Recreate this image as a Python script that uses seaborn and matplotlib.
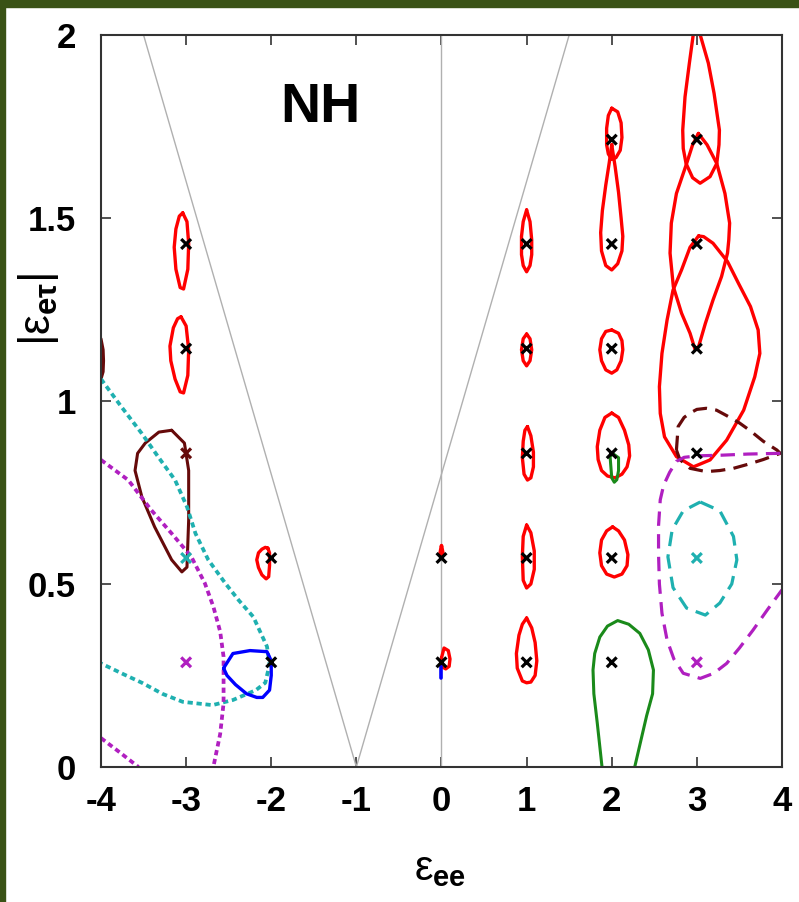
"""
NH contour chart: |eps_e tau| vs eps_ee
"""

import pandas as pd
import matplotlib.pyplot as plt
import seaborn as sns
from matplotlib.patches import Rectangle

# ---- axis ticks ----
x_ticks = [-4, -3, -2, -1, 0, 1, 2, 3, 4]
x_tick_labels = ["-4", "-3", "-2", "-1", "0", "1", "2", "3", "4"]
y_ticks = [0, 0.5, 1, 1.5, 2]
y_tick_labels = ["0", "0.5", "1", "1.5", "2"]

# ---- best-fit points (x markers) ----
mk_x = [-3, -3, -3, -3, -3, -2, -2, 0, 0,
        1, 1, 1, 1, 1, 2, 2, 2, 2, 2, 2,
        3, 3, 3, 3, 3, 3]
mk_y = [1.429, 1.143, 0.857, 0.571, 0.286, 0.571, 0.286, 0.571, 0.286,
        1.429, 1.143, 0.857, 0.571, 0.286,
        1.714, 1.429, 1.143, 0.857, 0.571, 0.286,
        1.714, 1.429, 1.143, 0.857, 0.571, 0.286]
mk_col = ["black", "black", "brown", "cyan", "magenta", "black", "black", "black", "black",
          "black", "black", "black", "black", "black",
          "black", "black", "black", "black", "black", "black",
          "black", "black", "black", "black", "cyan", "magenta"]

# ---- guide lines (grey) ----
v_x = [-3.5, -1.0, 1.5]
v_y = [2.0, 0.0, 2.0]
vert_x = [0.0, 0.0]
vert_y = [0.0, 2.0]

# ---- red solid contours ----
r1_x = [-3.04, -2.99, -2.97, -2.98, -3.03, -3.07, -3.12, -3.14, -3.12, -3.08, -3.04]
r1_y = [1.514, 1.49, 1.43, 1.36, 1.306, 1.31, 1.36, 1.42, 1.47, 1.505, 1.514]
r2_x = [-3.06, -3.0, -2.97, -2.98, -3.03, -3.07, -3.13, -3.18, -3.19, -3.15, -3.1, -3.06]
r2_y = [1.230, 1.205, 1.14, 1.07, 1.022, 1.025, 1.06, 1.11, 1.15, 1.2, 1.225, 1.230]
r3_x = [-2.04, -2.02, -2.02, -2.03, -2.06, -2.11, -2.15, -2.17, -2.15, -2.11, -2.07, -2.04]
r3_y = [0.598, 0.585, 0.55, 0.52, 0.514, 0.525, 0.545, 0.566, 0.585, 0.595, 0.600, 0.598]
r4_x = [-0.02, 0.0, 0.02, -0.02]
r4_y = [0.58, 0.605, 0.58, 0.58]
r5_x = [0.0, 0.03, 0.08, 0.10, 0.09, 0.05, 0.02, 0.0, 0.0]
r5_y = [0.298, 0.325, 0.318, 0.295, 0.275, 0.268, 0.272, 0.285, 0.298]
r6_x = [1.0, 1.04, 1.06, 1.06, 1.04, 1.0, 0.96, 0.94, 0.94, 0.96, 1.0]
r6_y = [1.522, 1.49, 1.44, 1.40, 1.37, 1.353, 1.37, 1.40, 1.45, 1.49, 1.522]
r7_x = [1.0, 1.04, 1.06, 1.04, 1.0, 0.96, 0.94, 0.96, 1.0]
r7_y = [1.183, 1.17, 1.14, 1.11, 1.096, 1.11, 1.14, 1.17, 1.183]
r8_x = [1.01, 1.05, 1.08, 1.08, 1.05, 1.01, 0.97, 0.95, 0.96, 0.98, 1.01]
r8_y = [0.930, 0.905, 0.86, 0.82, 0.79, 0.784, 0.80, 0.845, 0.89, 0.92, 0.930]
r9_x = [1.0, 1.05, 1.09, 1.09, 1.05, 1.0, 0.96, 0.95, 0.96, 1.0]
r9_y = [0.661, 0.64, 0.59, 0.54, 0.50, 0.489, 0.51, 0.575, 0.63, 0.661]
r10_x = [1.0, 1.06, 1.10, 1.12, 1.10, 1.05, 1.0, 0.95, 0.89, 0.88, 0.91, 0.95, 1.0]
r10_y = [0.407, 0.38, 0.34, 0.29, 0.25, 0.232, 0.23, 0.235, 0.27, 0.31, 0.36, 0.39, 0.407]
r11_x = [2.0, 2.07, 2.11, 2.12, 2.10, 2.05, 2.0, 1.96, 1.94, 1.94, 1.96, 2.0]
r11_y = [1.80, 1.79, 1.76, 1.72, 1.685, 1.665, 1.66, 1.675, 1.70, 1.745, 1.78, 1.80]
r12_x = [2.0, 2.04, 2.08, 2.11, 2.13, 2.12, 2.07, 2.0, 1.93, 1.88, 1.87, 1.89, 1.93, 1.97, 2.0]
r12_y = [1.70, 1.64, 1.57, 1.50, 1.45, 1.41, 1.375, 1.358, 1.37, 1.41, 1.46, 1.52, 1.59, 1.65, 1.70]
r13_x = [2.0, 2.08, 2.12, 2.13, 2.11, 2.06, 2.0, 1.93, 1.88, 1.86, 1.88, 1.93, 2.0]
r13_y = [1.194, 1.185, 1.165, 1.14, 1.11, 1.085, 1.076, 1.085, 1.11, 1.14, 1.17, 1.19, 1.194]
r14_x = [2.0, 2.08, 2.15, 2.20, 2.21, 2.18, 2.12, 2.04, 1.95, 1.88, 1.84, 1.83, 1.86, 1.92, 2.0]
r14_y = [0.967, 0.955, 0.92, 0.88, 0.85, 0.82, 0.80, 0.79, 0.795, 0.81, 0.84, 0.875, 0.92, 0.955, 0.967]
r15_x = [2.01, 2.08, 2.15, 2.19, 2.18, 2.12, 2.03, 1.94, 1.88, 1.86, 1.88, 1.94, 2.01]
r15_y = [0.656, 0.645, 0.62, 0.58, 0.55, 0.527, 0.519, 0.527, 0.55, 0.585, 0.62, 0.645, 0.656]
r16_x = [2.957, 2.912, 2.861, 2.834, 2.84, 2.873, 2.95, 3.038, 3.155, 3.234, 3.26, 3.265, 3.202, 3.135, 3.04]
r16_y = [2.0, 1.923, 1.831, 1.740, 1.69, 1.649, 1.61, 1.595, 1.613, 1.649, 1.70, 1.740, 1.841, 1.923, 2.0]
r17_x = [3.018, 3.12, 3.234, 3.33, 3.385, 3.375, 3.36, 3.29, 3.19, 3.10, 3.02, 2.98,
         2.92, 2.82, 2.724, 2.685, 2.70, 2.76, 2.88, 2.95, 3.018]
r17_y = [1.731, 1.70, 1.649, 1.567, 1.486, 1.44, 1.404, 1.34, 1.276, 1.212, 1.148, 1.14,
         1.185, 1.24, 1.312, 1.404, 1.486, 1.567, 1.649, 1.70, 1.731]
r18_x = [3.02, 2.92, 2.82, 2.72, 2.65, 2.59, 2.56, 2.57, 2.62, 2.76, 2.96, 3.155, 3.35,
         3.55, 3.68, 3.74, 3.72, 3.63, 3.49, 3.36, 3.19, 3.08, 3.02]
r18_y = [1.451, 1.42, 1.358, 1.303, 1.221, 1.13, 1.039, 0.966, 0.902, 0.848, 0.82, 0.839, 0.893,
         0.975, 1.066, 1.13, 1.194, 1.258, 1.321, 1.381, 1.431, 1.449, 1.451]

# ---- dark brown solid ----
b1_x = [-3.17, -3.02, -2.97, -2.97, -2.99, -3.05, -3.17, -3.37, -3.52, -3.60, -3.57, -3.48, -3.32, -3.17]
b1_y = [0.92, 0.885, 0.81, 0.675, 0.546, 0.533, 0.566, 0.656, 0.738, 0.81, 0.857, 0.885, 0.915, 0.92]
b2_x = [-4.0, -3.975, -3.97, -3.975, -4.0]
b2_y = [1.17, 1.14, 1.11, 1.08, 1.06]

# ---- dark brown dashed ----
bd_x = [2.76, 2.78, 2.85, 2.92, 3.0, 3.11, 3.23, 3.35, 3.5, 3.62, 3.78, 3.94, 3.98,
        3.78, 3.60, 3.43, 3.27, 3.11, 2.92, 2.80, 2.76]
bd_y = [0.866, 0.93, 0.955, 0.967, 0.977, 0.98, 0.975, 0.96, 0.94, 0.92, 0.89, 0.866, 0.857,
        0.84, 0.827, 0.816, 0.81, 0.807, 0.816, 0.84, 0.866]

# ---- cyan ----
cd_x = [-4.0, -3.76, -3.52, -3.33, -3.13, -2.99, -2.89, -2.74, -2.54, -2.38, -2.21, -2.05,
        -2.02, -2.07, -2.18, -2.45, -2.69, -3.04, -3.28, -3.51, -3.75, -4.0]
cd_y = [1.06, 0.984, 0.911, 0.848, 0.784, 0.711, 0.638, 0.566, 0.502, 0.455, 0.41, 0.329,
        0.28, 0.23, 0.21, 0.183, 0.169, 0.178, 0.2, 0.229, 0.255, 0.283]
ce_x = [3.04, 3.27, 3.43, 3.47, 3.41, 3.27, 3.10, 2.88, 2.72, 2.66, 2.71, 2.84, 3.04]
ce_y = [0.724, 0.70, 0.63, 0.566, 0.50, 0.448, 0.415, 0.434, 0.49, 0.574, 0.648, 0.70, 0.724]

# ---- magenta ----
md_x = [-4.0, -3.68, -3.41, -3.17, -2.94, -2.78, -2.68, -2.60, -2.56, -2.56, -2.6, -2.68]
md_y = [0.839, 0.784, 0.702, 0.638, 0.575, 0.502, 0.438, 0.37, 0.301, 0.174, 0.09, 0.0]
md2_x = [-4.0, -3.78, -3.56]
md2_y = [0.079, 0.04, 0.0]
me_x = [3.98, 3.6, 3.3, 3.0, 2.85, 2.76, 2.68, 2.61, 2.57, 2.55, 2.55, 2.56, 2.59, 2.65,
        2.73, 2.84, 3.04, 3.2, 3.35, 3.5, 3.66, 3.83, 4.0]
me_y = [0.857, 0.855, 0.852, 0.85, 0.846, 0.835, 0.805, 0.77, 0.73, 0.66, 0.58, 0.50, 0.42, 0.347,
        0.295, 0.256, 0.242, 0.256, 0.283, 0.325, 0.374, 0.43, 0.484]

# ---- blue ----
bl1_x = [-2.56, -2.45, -2.25, -2.05, -2.0, -2.0, -2.02, -2.1, -2.17, -2.29, -2.42, -2.52, -2.56]
bl1_y = [0.27, 0.31, 0.318, 0.315, 0.29, 0.25, 0.21, 0.19, 0.19, 0.20, 0.225, 0.25, 0.27]
bl2_x = [0.0, 0.0]
bl2_y = [0.275, 0.243]

# ---- green ----
g1_x = [1.886, 1.83, 1.79, 1.78, 1.80, 1.86, 1.95, 2.07, 2.2, 2.33, 2.43, 2.49, 2.48, 2.41, 2.34, 2.27]
g1_y = [0.0, 0.12, 0.2, 0.265, 0.31, 0.355, 0.385, 0.40, 0.39, 0.365, 0.32, 0.265, 0.2, 0.14, 0.07, 0.0]
g2_x = [1.98, 2.02, 2.08, 2.08, 2.06, 2.03, 2.0, 1.99, 1.98]
g2_y = [0.85, 0.855, 0.845, 0.81, 0.785, 0.778, 0.79, 0.82, 0.85]

palette = {
    "black": "#000000",
    "red": "#ff0000",
    "brown": "#660a0a",
    "cyan": "#1fb0b0",
    "magenta": "#b01fc0",
    "blue": "#0000ff",
    "green": "#1a8a1a",
}

DOT = (0, (1.4, 1.0))
DASH = (0, (4.5, 2.6))

# (name, xs, ys, color, linestyle, linewidth)
curves = [
    ("r1", r1_x, r1_y, "red", "-", 2.4), ("r2", r2_x, r2_y, "red", "-", 2.4),
    ("r3", r3_x, r3_y, "red", "-", 2.4), ("r4", r4_x, r4_y, "red", "-", 2.6),
    ("r5", r5_x, r5_y, "red", "-", 2.4), ("r6", r6_x, r6_y, "red", "-", 2.4),
    ("r7", r7_x, r7_y, "red", "-", 2.4), ("r8", r8_x, r8_y, "red", "-", 2.4),
    ("r9", r9_x, r9_y, "red", "-", 2.4), ("r10", r10_x, r10_y, "red", "-", 2.4),
    ("r11", r11_x, r11_y, "red", "-", 2.4), ("r12", r12_x, r12_y, "red", "-", 2.4),
    ("r13", r13_x, r13_y, "red", "-", 2.4), ("r14", r14_x, r14_y, "red", "-", 2.4),
    ("r15", r15_x, r15_y, "red", "-", 2.4), ("r16", r16_x, r16_y, "red", "-", 2.4),
    ("r17", r17_x, r17_y, "red", "-", 2.4), ("r18", r18_x, r18_y, "red", "-", 2.4),
    ("b1", b1_x, b1_y, "brown", "-", 2.2), ("b2", b2_x, b2_y, "brown", "-", 2.2),
    ("bd", bd_x, bd_y, "brown", DASH, 2.3),
    ("cd", cd_x, cd_y, "cyan", DOT, 2.7), ("ce", ce_x, ce_y, "cyan", DASH, 2.3),
    ("md", md_x, md_y, "magenta", DOT, 2.7), ("md2", md2_x, md2_y, "magenta", DOT, 2.7),
    ("me", me_x, me_y, "magenta", DASH, 2.3),
    ("bl1", bl1_x, bl1_y, "blue", "-", 2.4), ("bl2", bl2_x, bl2_y, "blue", "-", 2.6),
    ("g1", g1_x, g1_y, "green", "-", 2.2), ("g2", g2_x, g2_y, "green", "-", 2.2),
]

sns.set_theme(style="ticks")
plt.rcParams["font.family"] = ["Liberation Sans", "DejaVu Sans"]
plt.rcParams["axes.unicode_minus"] = False
plt.rcParams["mathtext.fontset"] = "custom"
plt.rcParams["mathtext.rm"] = "Liberation Sans"
plt.rcParams["mathtext.it"] = "Liberation Sans"
plt.rcParams["mathtext.bf"] = "Liberation Sans:bold"
plt.rcParams["text.color"] = "black"
plt.rcParams["axes.labelcolor"] = "black"
plt.rcParams["xtick.labelcolor"] = "black"
plt.rcParams["ytick.labelcolor"] = "black"

fig = plt.figure(figsize=(7.99, 9.02), dpi=100)
fig.patch.set_facecolor("white")
# dark green frame strips (left and top)
fig.patches.append(Rectangle((0, 0), 0.0063, 1, transform=fig.transFigure,
                             color="#3a5216", zorder=10))
fig.patches.append(Rectangle((0, 0.9922), 1, 0.0078, transform=fig.transFigure,
                             color="#3a5216", zorder=10))

ax = fig.add_axes([0.1264, 0.1497, 0.8523, 0.8115])

# grey guides
sns.lineplot(x=v_x, y=v_y, sort=False, estimator=None, color="#b0b0b0", lw=1.0, ax=ax)
sns.lineplot(x=vert_x, y=vert_y, sort=False, estimator=None, color="#b0b0b0", lw=1.0, ax=ax)

for name, xs, ys, col, ls, lw in curves:
    df = pd.DataFrame({"x": xs, "y": ys})
    sns.lineplot(data=df, x="x", y="y", sort=False, estimator=None,
                 color=palette[col], linestyle=ls, lw=lw, ax=ax)

pts = pd.DataFrame({"x": mk_x, "y": mk_y, "c": mk_col})
sns.scatterplot(data=pts, x="x", y="y", hue="c", palette=palette, marker="x",
                s=50, linewidth=2.3, legend=False, zorder=5, ax=ax)

ax.text(-1.42, 1.80, "NH", fontsize=40, fontweight="bold", color="black",
        ha="center", va="center")

ax.set_xlim(-4, 4)
ax.set_ylim(0, 2)
ax.set_xticks(x_ticks)
ax.set_xticklabels(x_tick_labels, fontweight="bold")
ax.set_yticks(y_ticks)
ax.set_yticklabels(y_tick_labels, fontweight="bold")
ax.tick_params(axis="both", direction="in", length=7, width=1.2, color="#333333",
               labelsize=25, labelcolor="black", top=True, right=True)
ax.tick_params(axis="x", pad=13)
ax.tick_params(axis="y", pad=18)
for side in ["left", "right", "top", "bottom"]:
    ax.spines[side].set_color("#333333")
    ax.spines[side].set_linewidth(1.5)

ax.set_xlabel(r"$\varepsilon_{\mathbf{ee}}$", fontsize=30)
ax.set_ylabel(r"$|\varepsilon_{\mathbf{e\tau}}|$", fontsize=32)
ax.xaxis.set_label_coords(0.498, -0.112)
ax.yaxis.set_label_coords(-0.058, 0.625)

fig.savefig("out.png", dpi=100)
plt.close(fig)
